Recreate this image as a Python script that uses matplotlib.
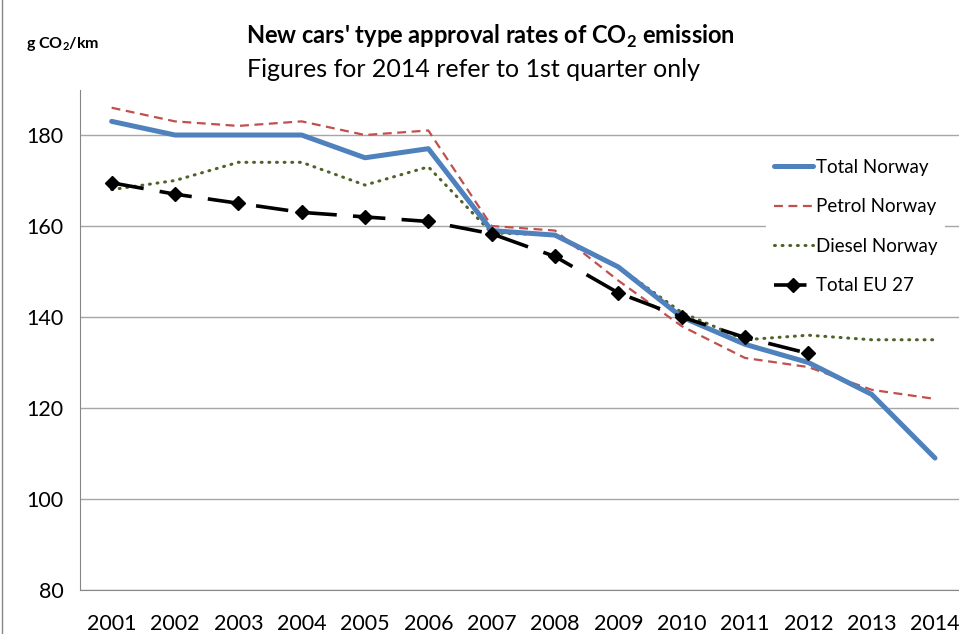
import matplotlib.pyplot as plt
from matplotlib.lines import Line2D

plt.rcParams['font.family'] = ['Lato', 'DejaVu Sans']
plt.rcParams['mathtext.fontset'] = 'custom'
plt.rcParams['mathtext.rm'] = 'Lato'
plt.rcParams['mathtext.bf'] = 'Lato:bold'

# data
years = list(range(2001, 2015))
total_norway = [183, 180, 180, 180, 175, 177, 159, 158, 151, 140, 134, 130, 123, 109]
petrol_norway = [186, 183, 182, 183, 180, 181, 160, 159, 148, 138, 131, 129, 124, 122]
diesel_norway = [168, 170, 174, 174, 169, 173, 158.5, 158, 151, 141, 135, 136, 135, 135]
eu_years = list(range(2001, 2013))
total_eu27 = [169.5, 167, 165, 163, 162, 161, 158.3, 153.3, 145.3, 140, 135.5, 132]

fig = plt.figure(figsize=(9.59, 6.34), dpi=100)
ax = fig.add_axes([0.0834, 0.0694, 0.9246, 0.7894])

ax.plot(years, total_norway, color='#4f81bd', lw=3.6, label='Total Norway', solid_capstyle='round', zorder=4)
ax.plot(years, petrol_norway, color='#c0504d', lw=1.6, ls=(0, (4, 2.5)), label='Petrol Norway', zorder=3)
ax.plot(years, diesel_norway, color='#4f6228', lw=2.2, ls=(0, (0.3, 2.2)), dash_capstyle='round', label='Diesel Norway', zorder=3)
ax.plot(eu_years, total_eu27, color='black', lw=2.6, ls=(0, (9, 4.5)), marker='D', markersize=7, label='Total EU 27', zorder=5)

ax.set_xlim(2000.5, 2014.5)
ax.set_ylim(80, 190)
ax.set_xticks(years)
ax.set_yticks(range(80, 181, 20))
ax.tick_params(axis='both', labelsize=15.5, length=0)
ax.tick_params(axis='x', pad=17)
ax.tick_params(axis='y', pad=12)
ax.yaxis.grid(True, color='#a6a6a6', lw=1)
ax.set_axisbelow(True)
for s in ['top', 'right']:
    ax.spines[s].set_visible(False)
for s in ['left', 'bottom']:
    ax.spines[s].set_color('#868686')

leg = ax.legend(loc='upper left', bbox_to_anchor=(0.774, 0.877), frameon=True, fontsize=13.5,
                handlelength=2.1, labelspacing=1.2, handletextpad=0.15, borderaxespad=0)
leg.get_frame().set_edgecolor('none')
leg.get_frame().set_facecolor('white')
leg.get_frame().set_alpha(1)

fig.text(0.511, 0.942, r"New cars' type approval rates of CO$_\mathbf{2}$ emission", ha='center', va='center',
         fontsize=17, fontweight='bold')
fig.text(0.494, 0.89, 'Figures for 2014 refer to 1st quarter only', ha='center', va='center', fontsize=18)
fig.text(0.027, 0.93, r'g CO$_\mathbf{2}$/km', ha='left', va='center', fontsize=11.5, fontweight='bold')

fig.add_artist(Line2D([0.002, 0.002], [0, 1], color='#868686', lw=1))

fig.savefig('out.png', dpi=100)
